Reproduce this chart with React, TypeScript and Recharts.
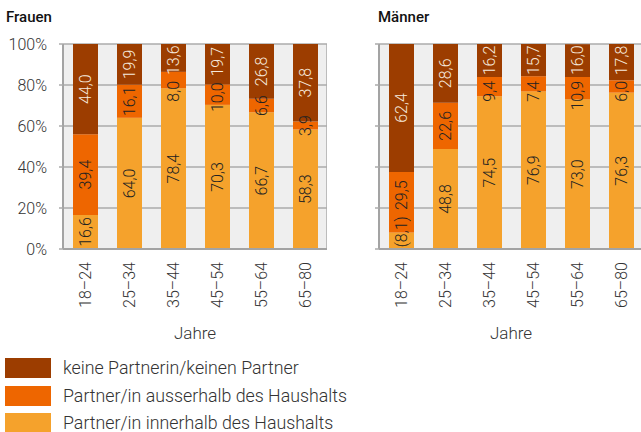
import { BarChart, Bar, XAxis, YAxis, CartesianGrid, LabelList } from 'recharts';

const ageGroups = ['18–24', '25–34', '35–44', '45–54', '55–64', '65–80'];

const frauenInnerhalb = [16.6, 64.0, 78.4, 70.3, 66.7, 58.3];
const frauenAusserhalb = [39.4, 16.1, 8.0, 10.0, 6.6, 3.9];
const frauenKeine = [44.0, 19.9, 13.6, 19.7, 26.8, 37.8];

const maennerInnerhalb = [8.1, 48.8, 74.5, 76.9, 73.0, 76.3];
const maennerAusserhalb = [29.5, 22.6, 9.4, 7.4, 10.9, 6.0];
const maennerKeine = [62.4, 28.6, 16.2, 15.7, 16.0, 17.8];
// Werte mit geringer Fallzahl werden in Klammern gezeigt
const maennerInnerhalbUnsicher = [true, false, false, false, false, false];

const yTicks = [0, 20, 40, 60, 80, 100];

const seriesNames = {
  keine: 'keine Partnerin/keinen Partner',
  ausserhalb: 'Partner/in ausserhalb des Haushalts',
  innerhalb: 'Partner/in innerhalb des Haushalts',
};

const colors = {
  keine: '#9c3d00',
  ausserhalb: '#ee6600',
  innerhalb: '#f5a22c',
};

const FONT = 'Roboto, "Noto Sans", sans-serif';
const stackKeys = ['innerhalb', 'ausserhalb', 'keine'];

const buildRows = (inner: number[], outer: number[], none: number[], unsure?: boolean[]) =>
  ageGroups.map((age, i) => ({
    age,
    innerhalb: inner[i],
    ausserhalb: outer[i],
    keine: none[i],
    unsicher: unsure ? unsure[i] : false,
  }));

const frauenData = buildRows(frauenInnerhalb, frauenAusserhalb, frauenKeine);
const maennerData = buildRows(maennerInnerhalb, maennerAusserhalb, maennerKeine, maennerInnerhalbUnsicher);

const fmt = (v: number) => v.toFixed(1).replace('.', ',');
const labelText = (row: any, key: string) => {
  const t = fmt(row[key]);
  return key === 'innerhalb' && row.unsicher ? `(${t})` : t;
};
// grobe Textlänge bei 16px
const textLen = (s: string) => {
  let w = 0;
  for (const ch of s) w += ch === ',' ? 3.5 : ch === '(' || ch === ')' ? 5.5 : 9;
  return w;
};

// Labels mittig im Segment, bei Überlappung auseinanderschieben
function layoutLabels(row: any, k: number, basePx: number) {
  const gap = 5;
  let cum = 0;
  const c: number[] = [];
  const h: number[] = [];
  stackKeys.forEach((key) => {
    c.push(basePx - (cum + row[key] / 2) * k);
    h.push(textLen(labelText(row, key)) / 2);
    cum += row[key];
  });
  const topPx = basePx - 100 * k + 1;
  const botPx = basePx - 1;
  for (let it = 0; it < 20; it++) {
    for (let j = 0; j < c.length - 1; j++) {
      const d = gap - (c[j] - h[j] - (c[j + 1] + h[j + 1]));
      if (d > 0) {
        c[j] += d / 2;
        c[j + 1] -= d / 2;
      }
    }
    if (c[0] + h[0] > botPx) c[0] = botPx - h[0];
    const last = c.length - 1;
    if (c[last] - h[last] < topPx) c[last] = topPx + h[last];
  }
  return c;
}

function makeBarLabel(color: string, data: any[], key: string) {
  return (props: any) => {
    const { x, y, width, height, value, index } = props;
    const row = data[index];
    const v = Number(value);
    const k = Number(height) / v;
    const pos = stackKeys.indexOf(key);
    let lower = 0;
    for (let j = 0; j < pos; j++) lower += row[stackKeys[j]];
    const basePx = Number(y) + Number(height) + lower * k;
    const cx = Number(x) + Number(width) / 2;
    const cy = layoutLabels(row, k, basePx)[pos];
    return (
      <text
        x={cx}
        y={cy}
        transform={`rotate(-90 ${cx} ${cy})`}
        textAnchor="middle"
        dominantBaseline="central"
        fill={color}
        fontSize={16}
        fontWeight={300}
        fontFamily={FONT}
      >
        {labelText(row, key)}
      </text>
    );
  };
}

const AgeTick = (props: any) => {
  const { x, y, payload } = props;
  const ty = y + 5;
  return (
    <text
      x={x}
      y={ty}
      transform={`rotate(-90 ${x} ${ty})`}
      textAnchor="end"
      dominantBaseline="central"
      fill="#333"
      fontSize={16}
      fontWeight={300}
      fontFamily={FONT}
    >
      {payload.value}
    </text>
  );
};

function Panel({ data, showLabels, width }: { data: any[]; showLabels: boolean; width: number }) {
  return (
    <BarChart
      width={width}
      height={345}
      data={data}
      margin={{ top: 44, right: 0, bottom: 0, left: 0 }}
      barSize={25}
    >
      <CartesianGrid
        fill="#efefef"
        stroke="#ababab"
        strokeWidth={1.5}
        verticalCoordinatesGenerator={({ offset }: any) => [offset.left + offset.width]}
      />
      <XAxis
        dataKey="age"
        height={96}
        tickLine={false}
        axisLine={{ stroke: '#a3a3a3', strokeWidth: 2 }}
        tick={<AgeTick />}
        interval={0}
        label={{ value: 'Jahre', position: 'insideBottom', offset: 6, fill: '#333', fontSize: 17, fontWeight: 300, fontFamily: FONT }}
      />
      <YAxis
        width={showLabels ? 63 : 49}
        domain={[0, 100]}
        ticks={yTicks}
        allowDataOverflow
        tickSize={4}
        tickMargin={12}
        tickLine={{ stroke: '#ababab', strokeWidth: 1.5 }}
        axisLine={{ stroke: '#a3a3a3', strokeWidth: 2 }}
        tickFormatter={(v: number) => (showLabels ? `${v}%` : '')}
        tick={{ fill: '#333', fontSize: 16, fontWeight: 300, fontFamily: FONT }}
      />
      <Bar dataKey="innerhalb" stackId="a" fill={colors.innerhalb} isAnimationActive={false}>
        <LabelList dataKey="innerhalb" content={makeBarLabel('#222', data, 'innerhalb')} />
      </Bar>
      <Bar dataKey="ausserhalb" stackId="a" fill={colors.ausserhalb} isAnimationActive={false}>
        <LabelList dataKey="ausserhalb" content={makeBarLabel('#222', data, 'ausserhalb')} />
      </Bar>
      <Bar dataKey="keine" stackId="a" fill={colors.keine} isAnimationActive={false}>
        <LabelList dataKey="keine" content={makeBarLabel('#f6e9dd', data, 'keine')} />
      </Bar>
    </BarChart>
  );
}

const legendOrder: (keyof typeof colors)[] = ['keine', 'ausserhalb', 'innerhalb'];

export default function App() {
  const title = { position: 'absolute' as const, top: 7, fontSize: 15, fontWeight: 500, fontFamily: FONT, color: '#111', lineHeight: '20px' };
  return (
    <div style={{ position: 'fixed', left: 0, top: 0, width: 641, height: 432, overflow: 'hidden', background: '#fff', fontFamily: FONT }}>
      <div style={{ ...title, left: 6 }}>Frauen</div>
      <div style={{ ...title, left: 378 }}>Männer</div>
      <div style={{ position: 'absolute', left: 0, top: 0 }}>
        <Panel data={frauenData} showLabels width={327} />
      </div>
      <div style={{ position: 'absolute', left: 330, top: 0 }}>
        <Panel data={maennerData} showLabels={false} width={313} />
      </div>
      <div style={{ position: 'absolute', left: 5, top: 358 }}>
        {legendOrder.map((k) => (
          <div key={k} style={{ display: 'flex', height: 27.5 }}>
            <div style={{ width: 46, height: 20, background: colors[k], marginRight: 12 }} />
            <span style={{ fontSize: 17.8, fontWeight: 300, color: '#333', lineHeight: '20px', whiteSpace: 'nowrap' }}>{seriesNames[k]}</span>
          </div>
        ))}
      </div>
    </div>
  );
}
